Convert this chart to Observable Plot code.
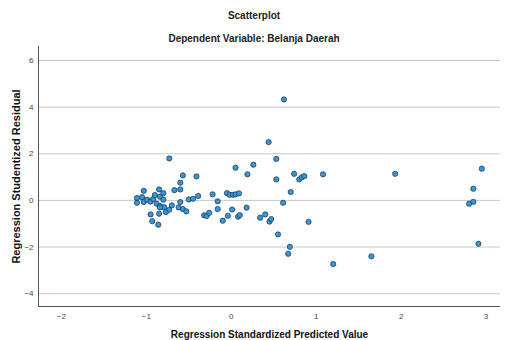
<!DOCTYPE html>
<html>
<head>
<meta charset="utf-8">
<script src="https://cdn.jsdelivr.net/npm/d3@7"></script>
<script src="https://cdn.jsdelivr.net/npm/@observablehq/plot@0.6"></script>
<style>
  html, body { margin: 0; padding: 0; background: #fff; }
  #wrap { position: relative; width: 508px; height: 340px; font-family: "Liberation Sans", Arial, sans-serif; }
  .ttl { position: absolute; left: 0; width: 508px; text-align: center; font-weight: bold; font-size: 10px; color: #222; }
  #chart { position: absolute; left: 0; top: 0; }
</style>
</head>
<body>
<div id="wrap">
  <div id="chart"></div>
  <div class="ttl" id="t1" style="top:10px;">Scatterplot</div>
  <div class="ttl" id="t2" style="top:33px;">Dependent Variable: Belanja Daerah</div>
</div>
<script>
const title = "Scatterplot";
const subtitle = "Dependent Variable: Belanja Daerah";
const xTitle = "Regression Standardized Predicted Value";
const yTitle = "Regression Studentized Residual";

const xTicks = [-2, -1, 0, 1, 2, 3];
const yTicks = [-4, -2, 0, 2, 4, 6];
const xDomain = [-2.27, 3.17];
const yDomain = [-4.55, 6.6];

const predicted = [
  -1.11, -1.11, -1.05, -1.03, -1.03, -0.99, -0.95, -0.92, -0.90, -0.88,
  -0.85, -0.84, -0.84, -0.80, -0.80, -0.79, -0.77, -0.73, -0.70, -0.85,
  -0.95, -0.93, -0.86, -0.73, -0.67, -0.60, -0.60, -0.57, -0.60, -0.62,
  -0.57, -0.53, -0.50, -0.45, -0.41, -0.39, -0.32, -0.29, -0.26, -0.22,
  -0.16, -0.16, -0.10, -0.05, -0.04, -0.02, 0.01, 0.02, 0.05, 0.05,
  0.08, 0.09, 0.10, 0.18, 0.19, 0.26, 0.34, 0.40, 0.44, 0.45,
  0.47, 0.53, 0.53, 0.55, 0.61, 0.62, 0.67, 0.69, 0.70, 0.74,
  0.80, 0.83, 0.86, 0.91, 1.08, 1.20, 1.65, 1.93, 2.80, 2.85,
  2.85, 2.91, 2.95, -0.84
];
const residual = [
  0.10, -0.10, 0.14, 0.41, -0.07, 0.03, -0.05, 0.06, 0.23, -0.14,
  0.47, 0.16, -0.24, 0.31, 0.03, -0.29, -0.50, -0.40, -0.21, -0.57,
  -0.60, -0.89, -1.04, 1.80, 0.44, 0.47, 0.76, 1.07, -0.07, -0.30,
  -0.37, -0.47, 0.04, 0.07, 1.03, 0.19, -0.64, -0.67, -0.53, 0.26,
  -0.04, -0.37, -0.87, 0.31, -0.66, 0.24, -0.39, 0.24, 0.26, 1.40,
  -0.70, 0.30, -0.63, -0.31, 1.12, 1.53, -0.74, -0.60, 2.50, -0.91,
  -0.80, 1.78, 0.90, -1.46, -0.10, 4.33, -2.29, -1.99, 0.36, 1.14,
  0.90, 0.99, 1.04, -0.92, 1.12, -2.73, -2.40, 1.14, -0.14, -0.06,
  0.50, -1.86, 1.36, -0.30
];

const data = predicted.map((x, i) => ({x, y: residual[i]}));

const chart = Plot.plot({
  width: 508,
  height: 340,
  marginTop: 46,
  marginBottom: 34,
  marginLeft: 38,
  marginRight: 8,
  style: {fontFamily: "'Liberation Sans', Arial, sans-serif", fontSize: "8px", background: "transparent", color: "#333"},
  x: {domain: xDomain},
  y: {domain: yDomain},
  marks: [
    Plot.gridY(yTicks, {stroke: "#c8c8c8", strokeOpacity: 1, strokeWidth: 1}),
    Plot.ruleX([xDomain[0]], {stroke: "#555", strokeWidth: 1}),
    Plot.ruleY([yDomain[0]], {stroke: "#555", strokeWidth: 1}),
    Plot.axisY(yTicks, {tickSize: 0, tickPadding: 5, label: null, fill: "#444", fontSize: 8}),
    Plot.axisX(xTicks, {tickSize: 0, tickPadding: 7, label: null, fill: "#444", fontSize: 8}),
    Plot.axisX([], {label: xTitle, labelAnchor: "center", labelArrow: "none", labelOffset: 31, fontSize: 10, fontWeight: "bold", fill: "#111", tickSize: 0}),
    Plot.axisY([], {label: yTitle, labelAnchor: "center", labelArrow: "none", labelOffset: 26, fontSize: 11, fontWeight: "bold", fill: "#111", tickSize: 0}),
    Plot.dot(data, {x: "x", y: "y", r: 2.6, fill: "#3a97d6", stroke: "#1c3d5c", strokeWidth: 0.8, fillOpacity: 1})
  ]
});
document.getElementById("chart").appendChild(chart);
</script>
</body>
</html>
